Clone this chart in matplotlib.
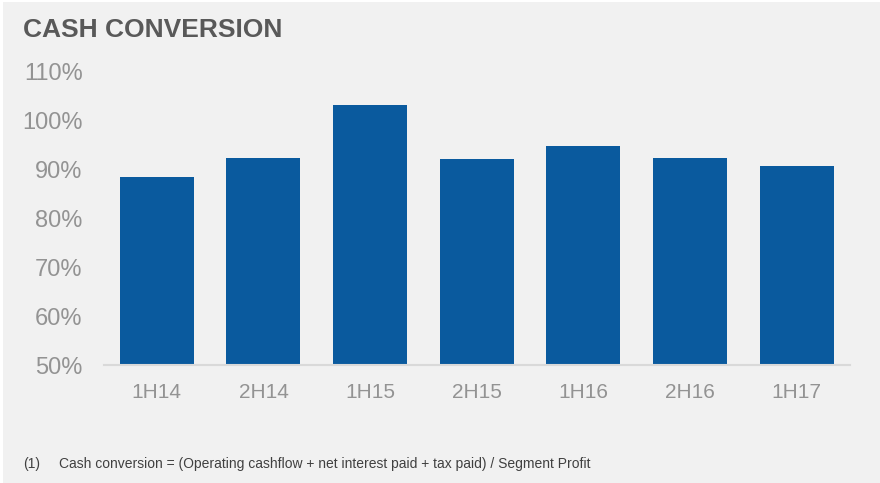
import matplotlib
matplotlib.use("Agg")
import matplotlib.pyplot as plt
from matplotlib.patches import Rectangle

categories = ["1H14", "2H14", "1H15", "2H15", "1H16", "2H16", "1H17"]
values = [88.4, 92.3, 103.2, 92.1, 94.8, 92.3, 90.8]
yticks = [50, 60, 70, 80, 90, 100, 110]
ytick_labels = ["50%", "60%", "70%", "80%", "90%", "100%", "110%"]
title = "CASH CONVERSION"
footnote_num = "(1)"
footnote = "Cash conversion = (Operating cashflow + net interest paid + tax paid) / Segment Profit"

plt.rcParams['font.family'] = ['Liberation Sans', 'DejaVu Sans']

W, H = 880, 483
fig = plt.figure(figsize=(W / 100, H / 100), dpi=100, facecolor="white")
bg = "#f1f1f1"
fig.patches.append(Rectangle((3 / W, 0), 1, 1 - 1.5 / H, transform=fig.transFigure,
                             facecolor=bg, edgecolor="none", zorder=-10))

left, right = 103.5, 850
bottom, top = 365, 72
ax = fig.add_axes([left / W, 1 - bottom / H, (right - left) / W, (bottom - top) / H])
ax.set_facecolor("none")

x = list(range(len(categories)))
ax.bar(x, [v - 50 for v in values], bottom=50, width=0.694, color="#0a5a9e",
       edgecolor="none", zorder=3)

ax.set_xlim(-0.5, len(categories) - 0.5)
ax.set_ylim(50, 110)
ax.set_yticks(yticks)
ax.set_yticklabels(ytick_labels)
ax.set_xticks(x)
ax.set_xticklabels(categories)

for s in ["top", "right", "left"]:
    ax.spines[s].set_visible(False)
ax.spines["bottom"].set_color("#d9d9d9")
ax.spines["bottom"].set_linewidth(1.5)
ax.spines["bottom"].set_zorder(4)

ax.tick_params(axis="y", length=0, pad=15, labelsize=17, labelcolor="#939393")
ax.tick_params(axis="x", length=0, pad=13, labelsize=15, labelcolor="#939393")

fig.text(23 / W, 1 - 37 / H, title, fontsize=19, fontweight="bold", color="#595959",
         ha="left", va="baseline")
fig.text(23 / W, 1 - 464 / H, footnote_num, fontsize=10, color="#404040",
         ha="left", va="center")
fig.text(59 / W, 1 - 464 / H, footnote, fontsize=10, color="#404040",
         ha="left", va="center")

fig.savefig("out.png", dpi=100, facecolor=fig.get_facecolor())
